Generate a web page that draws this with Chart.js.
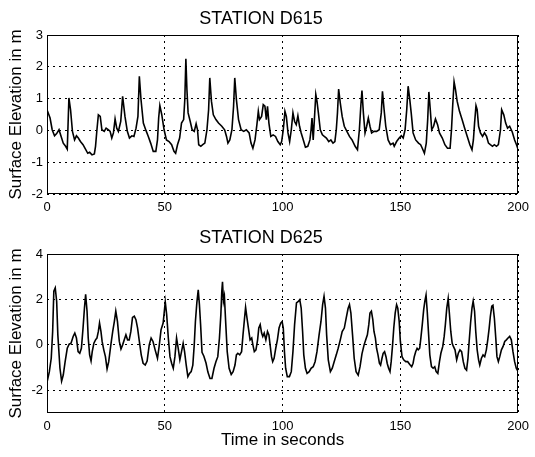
<!DOCTYPE html>
<html>
<head>
<meta charset="utf-8">
<script src="https://cdn.jsdelivr.net/npm/chart.js@4.4.1/dist/chart.umd.min.js"></script>
<style>
  body { margin: 0; background: #fff; }
  .panel { position: absolute; left: 0; width: 535px; }
</style>
</head>
<body>
<div class="panel" style="top:0;height:219px"><canvas id="graf1" width="535" height="219"></canvas></div>
<div class="panel" style="top:219px;height:238px"><canvas id="graf2" width="535" height="238"></canvas></div>
<script>
// time (s) / surface elevation (m)
const d615Time = [0,0.4,1.3,2.2,3.2,4.1,5.1,6.0,6.9,7.9,8.6,9.3,10.0,10.8,11.7,12.5,13.3,14.2,15.3,16.1,17.3,18.1,19.1,20.1,20.6,21.2,21.8,22.6,23.3,24.3,25.1,26.1,26.8,27.5,28.2,28.9,29.6,30.3,31.3,32.1,33.1,34.1,35.0,36.0,36.9,37.8,38.6,39.2,39.9,40.9,42.0,43.0,44.0,45.1,46.2,46.9,47.4,47.9,48.7,49.7,50.7,51.8,52.9,53.9,54.6,55.4,56.3,57.1,58.0,58.5,58.95,59.4,59.9,60.8,61.6,62.5,63.3,63.9,64.4,65.3,66.1,67.0,67.9,68.6,69.1,69.8,70.6,71.7,72.8,74.2,75.4,76.2,76.8,77.6,78.5,79.2,79.7,80.4,81.3,82.4,83.5,84.6,85.8,86.6,87.4,88.3,89.1,89.7,90.2,91.1,91.8,92.5,93.1,93.6,94.2,95.0,96.0,97.0,98.0,99.0,99.6,100.3,101.0,101.6,102.3,103.0,103.7,104.4,105.1,105.8,106.5,107.2,107.9,108.8,109.7,110.7,111.6,112.1,112.5,113.0,113.5,114.1,114.6,115.2,116.0,116.9,117.7,118.6,119.6,120.5,121.4,122.2,122.8,123.3,123.8,124.5,125.3,126.2,127.3,128.4,129.5,130.8,131.8,132.6,133.2,133.7,134.3,135.0,135.7,136.4,137.1,137.8,138.8,139.9,141.0,141.9,142.4,143.1,143.8,144.8,145.8,146.9,147.4,148.4,149.5,150.4,151.2,152.0,152.7,153.3,154.0,154.6,155.4,156.5,157.7,158.6,159.3,160.2,161.0,161.6,162.1,162.7,163.3,164.1,164.9,165.8,166.6,167.8,168.9,170.0,171.1,171.7,172.2,172.8,173.4,174.1,175.1,176.2,177.3,178.4,179.5,180.4,181.0,181.5,182.1,182.6,183.2,184.0,184.9,185.7,186.6,187.4,188.2,189.1,189.9,190.8,191.6,192.5,193.0,193.9,194.7,195.5,196.4,197.5,198.5,199.3,200];
const d615Elev = [0.65,0.65,0.39,0.02,-0.17,-0.1,0.02,-0.19,-0.4,-0.5,-0.59,1.02,0.65,-0.03,-0.3,-0.17,-0.24,-0.35,-0.45,-0.56,-0.72,-0.69,-0.77,-0.74,-0.5,0.02,0.49,0.44,0.02,-0.03,0.07,0.02,-0.03,-0.24,-0.08,0.36,0.07,-0.03,0.28,1.07,0.44,-0.03,-0.24,-0.17,-0.19,0.07,0.44,1.7,0.97,0.23,0,-0.19,-0.4,-0.66,-0.66,-0.3,0.39,0.78,0.5,0.02,-0.3,-0.35,-0.45,-0.66,-0.72,-0.45,-0.24,0.23,0.34,0.97,2.25,1.28,0.55,0.28,0.02,-0.03,0.21,0.02,-0.45,-0.5,-0.45,-0.4,0.02,0.65,1.65,0.92,0.49,0.34,0.23,0.13,0.02,-0.19,-0.4,-0.3,0.02,0.76,1.65,0.97,0.34,0.02,-0.03,0.02,-0.08,-0.4,-0.56,-0.3,0.18,0.6,0.34,0.44,0.81,0.76,0.34,0.76,0.23,-0.19,-0.14,-0.19,-0.35,-0.45,-0.35,0.02,0.6,0.44,-0.08,-0.35,0.02,0.55,0.28,0.18,0.46,0.13,-0.08,-0.3,-0.53,-0.5,-0.3,0.02,0.39,-0.3,0.34,1.13,0.92,0.55,0.02,-0.14,-0.19,-0.24,-0.35,-0.3,-0.4,-0.35,0.02,0.55,1.3,0.86,0.44,0.13,-0.03,-0.19,-0.3,-0.5,-0.61,0.02,0.76,1.25,0.55,-0.08,0.13,0.39,0.13,-0.08,-0.03,-0.03,0.02,0.55,1.23,0.65,0.13,-0.3,-0.45,-0.4,-0.5,-0.35,-0.24,-0.17,-0.24,0.02,0.65,1.39,0.97,0.55,-0.08,-0.3,-0.4,-0.45,-0.56,-0.72,-0.4,0.34,1.21,0.65,0.02,0.13,0.36,0.18,-0.08,-0.24,-0.45,-0.56,-0.56,0.02,0.76,1.53,1.28,0.92,0.6,0.34,0.07,-0.19,-0.45,-0.61,-0.3,0.23,0.78,0.65,0.13,-0.08,-0.19,-0.08,-0.19,-0.4,-0.45,-0.5,-0.45,-0.5,-0.45,0.02,0.65,0.49,0.23,0.07,0.13,-0.05,-0.3,-0.45,-0.6];

const d625Time = [0,1.0,1.8,2.4,2.9,3.5,4.1,4.6,5.5,6.2,6.9,7.7,8.6,9.4,10.2,11.1,11.8,12.5,13.2,13.9,14.6,15.3,15.9,16.4,17.0,17.5,18.1,18.7,19.2,19.9,20.6,21.2,21.8,22.3,22.9,23.4,24.1,24.8,25.5,26.2,27.1,27.9,28.6,29.2,29.9,30.7,31.4,32.1,32.8,33.5,34.2,34.9,35.6,36.3,37.05,37.75,38.45,39.2,40.0,40.8,41.7,42.5,43.4,44.2,45.0,45.9,46.9,47.6,48.4,49.3,49.8,50.2,50.8,51.5,52.2,52.9,53.6,54.3,55.0,55.7,56.4,57.1,57.8,58.4,59.1,59.8,60.5,61.2,61.9,62.5,63.0,63.6,64.2,64.7,65.2,65.8,66.6,67.5,68.3,69.2,70.0,70.9,71.7,72.5,73.2,73.8,74.2,74.5,74.9,75.3,75.9,76.5,77.3,78.2,79.0,79.8,80.4,81.0,81.8,82.6,83.2,83.8,84.3,84.9,85.5,86.2,86.9,87.4,88.0,88.7,89.4,89.9,90.5,91.1,91.6,92.2,92.9,93.6,94.2,94.7,95.3,95.8,96.4,97.1,97.8,98.5,99.2,99.8,100.3,100.8,101.3,102.0,102.9,103.7,104.4,105.1,105.9,106.8,107.3,107.9,108.5,109.0,109.7,110.4,111.3,112.1,113.0,113.8,114.6,115.5,116.3,117.0,117.6,118.2,118.7,119.4,120.3,121.1,121.9,122.8,123.6,124.5,125.3,126.2,127.0,127.8,128.4,129.0,129.7,130.4,131.2,132.1,132.9,133.7,134.6,135.3,136.0,136.6,137.1,137.7,138.3,138.8,139.4,139.9,140.5,141.1,141.6,142.2,142.7,143.3,143.9,144.4,145.0,145.6,146.1,146.7,147.2,147.8,148.4,148.9,149.5,150.0,150.7,151.4,152.3,153.1,154.0,154.8,155.4,155.9,156.5,157.1,157.6,158.2,158.7,159.3,159.9,160.4,160.9,161.4,162.0,162.5,163.2,163.9,164.6,165.2,165.9,166.6,167.2,168.0,168.6,169.1,169.7,170.3,170.8,171.4,172.0,172.5,173.2,173.9,174.6,175.3,176.0,176.7,177.4,178.1,178.7,179.2,179.8,180.4,180.9,181.5,182.0,182.6,183.2,183.7,184.4,185.1,185.8,186.5,187.1,187.7,188.2,188.8,189.3,189.9,190.5,191.0,191.6,192.2,192.9,193.6,194.3,195.0,195.7,196.4,197.1,197.8,198.5,199.2,200];
const d625Elev = [-1.65,-1.18,-0.59,0.59,2.36,2.51,1.92,0.44,-1.03,-1.6,-1.33,-0.74,-0.15,0.03,0.07,0.37,0.52,0.3,-0.3,-0.37,-0.15,0.74,1.62,2.22,1.48,0.3,-0.44,-0.71,-0.3,0.07,0.22,0.3,0.59,0.96,0.59,0.15,-0.22,-0.52,-1.06,-0.74,0,0.59,1.03,1.48,1.03,0.15,-0.18,0,0.22,0.44,0.22,0.22,0.59,1.21,1.26,1.11,0.74,0.15,-0.44,-0.81,-0.89,-0.71,0,0.3,0.15,-0.22,-0.59,-0.07,0.66,0.96,1.48,1.89,1.33,0.3,-0.52,-0.81,-1.03,-0.52,0.3,-0.15,-0.66,-0.3,0.07,-0.3,-0.89,-1.4,-1.26,-1.18,-0.89,0,1.03,1.85,2.42,1.77,0.89,-0.33,-0.5,-0.8,-1.2,-1.48,-1.48,-1.03,-0.74,-0.52,0.3,1.33,2.36,2.78,1.92,2.14,0.89,-0.3,-1.03,-1.3,-1.18,-0.89,-0.44,-0.37,-0.44,-0.3,0.44,1.11,1.65,1.18,0.74,0.22,0.3,0,-0.3,-0.22,0.22,0.74,0.89,0.52,0.37,0.52,0.22,0.59,0.44,0,-0.52,-0.74,-0.59,-0.15,0.22,0.74,0.96,1.03,0.74,-0.3,-1.03,-1.4,-1.4,-1.18,-0.3,0.89,1.85,1.92,1.99,1.62,0.59,-0.44,-1.03,-1.26,-1.18,-1.03,-0.96,-0.74,-0.3,0.44,1.03,1.77,2.14,1.62,0.44,-0.66,-1.18,-1.03,-0.74,-0.44,-0.15,0.22,0.59,0.74,1.18,1.6,1.77,1.4,0.44,-0.59,-1.18,-1.33,-0.95,-0.4,0,0.22,0.44,0.89,1.4,1.48,1.11,0.59,0.3,-0.15,-0.44,-0.81,-0.89,-0.59,-0.37,-0.3,-0.52,-0.81,-1.03,-1.18,-0.74,0,0.74,1.4,1.77,1.62,1.03,0.15,-0.52,-0.66,-0.74,-0.74,-0.86,-0.96,-0.81,-0.52,-0.3,-0.15,-0.22,-0.15,0.3,0.89,1.55,1.92,2.19,1.48,0.44,-0.44,-0.96,-1.03,-0.96,-1.18,-1.26,-0.74,-0.37,-0.07,0.37,0.89,1.62,2.04,1.4,0.59,0.07,-0.07,-0.22,-0.66,-0.37,-0.22,-0.3,-0.74,-1.03,-1.11,-0.59,0.15,0.96,1.62,1.92,1.48,0.59,-0.22,-0.66,-0.89,-0.59,-0.44,-0.52,-0.22,0.22,0.74,1.26,1.7,1.74,1.18,0.3,-0.52,-0.74,-0.52,-0.22,-0.07,0.15,0.22,0.3,0.37,0.22,-0.3,-0.74,-1.03,-1.18];

const xTicks = [0, 50, 100, 150, 200];
const d615YTicks = [-2, -1, 0, 1, 2, 3];
const d625YTicks = [-2, 0, 2, 4];

const fonte = '"Liberation Sans", Arial, Helvetica, sans-serif';

// caixa preta em volta da area do grafico
const moldura = {
	id: 'moldura',
	afterDatasetsDraw(chart) {
		const a = chart.chartArea;
		const ctx = chart.ctx;
		ctx.save();
		ctx.strokeStyle = '#000';
		ctx.lineWidth = 1;
		ctx.strokeRect(Math.round(a.left) + 0.5, Math.round(a.top) + 0.5, Math.round(a.right - a.left) - 1, Math.round(a.bottom - a.top) - 1);
		ctx.restore();
	}
};

function pontos(tempos, valores) {
	return tempos.map((t, i) => ({x: t, y: valores[i]}));
}

function criaGrafico(local, titulo, tempos, valores, yMin, yMax, yTicks, alturaX, tituloX) {
	return new Chart(local, {
		type: 'line',
		data: {
			datasets: [{
				data: pontos(tempos, valores),
				borderColor: '#000',
				borderWidth: 1.6,
				pointRadius: 0,
				tension: 0,
				fill: false
			}]
		},
		options: {
			responsive: false,
			animation: false,
			devicePixelRatio: 1,
			layout: { padding: { left: 0, right: 13, top: 0, bottom: 0 } },
			plugins: {
				legend: { display: false },
				tooltip: { enabled: false },
				title: {
					display: true,
					text: titulo,
					color: '#000',
					font: { family: fonte, size: 18, weight: 'normal', lineHeight: 1.2 },
					padding: { top: 8, bottom: 5.4 }
				}
			},
			scales: {
				x: {
					type: 'linear',
					min: 0,
					max: 200,
					afterBuildTicks: s => { s.ticks = xTicks.map(v => ({value: v})); },
					afterFit: s => { s.height = alturaX; },
					grid: { color: '#000', lineWidth: 1, drawTicks: false },
					border: { display: false, dash: [2, 4] },
					ticks: { color: '#000', padding: 6, maxRotation: 0, font: { family: fonte, size: 13 } },
					title: {
						display: !!tituloX,
						text: tituloX || '',
						color: '#000',
						font: { family: fonte, size: 17, lineHeight: 1.2 },
						padding: { top: 0, bottom: 6 }
					}
				},
				y: {
					type: 'linear',
					min: yMin,
					max: yMax,
					afterBuildTicks: s => { s.ticks = yTicks.map(v => ({value: v})); },
					afterFit: s => { s.width = 47; },
					grid: { color: '#000', lineWidth: 1, drawTicks: false },
					border: { display: false, dash: [2, 4] },
					ticks: { color: '#000', padding: 4, font: { family: fonte, size: 13 } },
					title: {
						display: true,
						text: 'Surface Elevation in m',
						color: '#000',
						font: { family: fonte, size: 17, lineHeight: 1.2 },
						padding: { top: 6, bottom: 0 }
					}
				}
			}
		},
		plugins: [moldura]
	});
}

criaGrafico(document.querySelector('#graf1'), 'STATION D615', d615Time, d615Elev, -2, 3, d615YTicks, 25, null);
criaGrafico(document.querySelector('#graf2'), 'STATION D625', d625Time, d625Elev, -3, 4, d625YTicks, 44, 'Time in seconds');
</script>
</body>
</html>
